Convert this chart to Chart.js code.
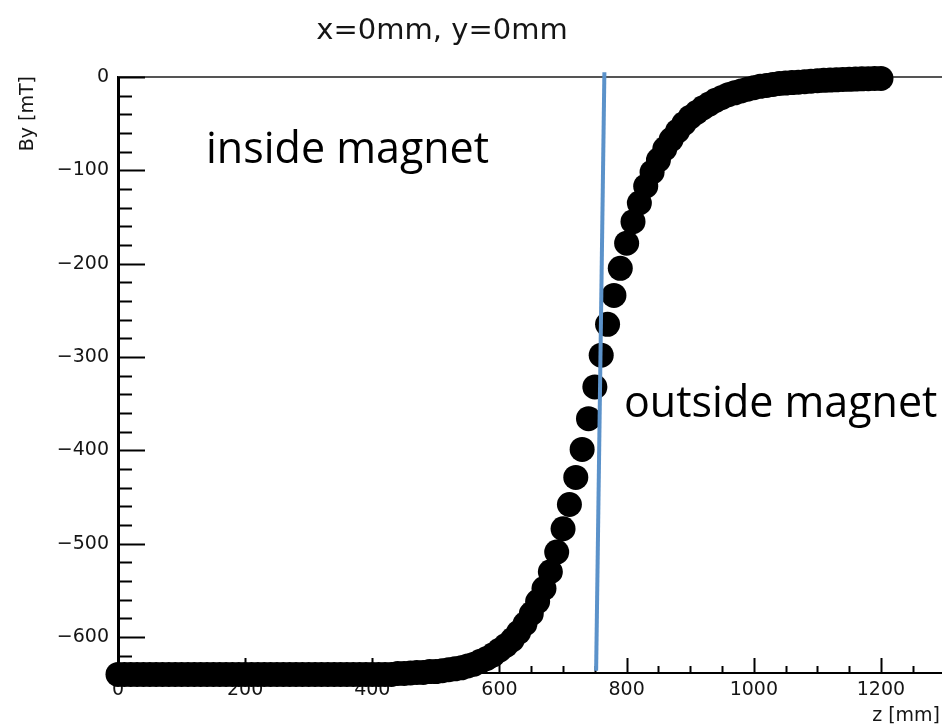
<!DOCTYPE html>
<html>
<head>
<meta charset="utf-8">
<script src="https://cdn.jsdelivr.net/npm/chart.js@4.4.0/dist/chart.umd.min.js"></script>
<style>
  html, body { margin: 0; padding: 0; background: #fff; }
  #wrap { width: 942px; height: 728px; position: relative; }
</style>
</head>
<body>
<div id="wrap"><canvas id="fieldChart"></canvas></div>
<script>
// z positions [mm] and By values [mT]
const zValues = [
    0, 10, 20, 30, 40, 50, 60, 70, 80, 90,
    100, 110, 120, 130, 140, 150, 160, 170, 180, 190,
    200, 210, 220, 230, 240, 250, 260, 270, 280, 290,
    300, 310, 320, 330, 340, 350, 360, 370, 380, 390,
    400, 410, 420, 430, 440, 450, 460, 470, 480, 490,
    500, 510, 520, 530, 540, 550, 560, 570, 580, 590,
    600, 610, 620, 630, 640, 650, 660, 670, 680, 690,
    700, 710, 720, 730, 740, 750, 760, 770, 780, 790,
    800, 810, 820, 830, 840, 850, 860, 870, 880, 890,
    900, 910, 920, 930, 940, 950, 960, 970, 980, 990,
    1000, 1010, 1020, 1030, 1040, 1050, 1060, 1070, 1080, 1090,
    1100, 1110, 1120, 1130, 1140, 1150, 1160, 1170, 1180, 1190,
    1200
];
const byValues = [
    -640, -640, -640, -640, -640, -640, -640, -640, -640, -640,
    -640, -640, -640, -640, -640, -640, -640, -640, -640, -640,
    -640, -640, -640, -640, -640, -640, -640, -640, -640, -640,
    -640, -640, -640, -640, -640, -640, -640, -640, -640, -640,
    -640, -640, -640, -640, -639, -639, -638.5, -638, -638, -637,
    -637, -636, -635, -634, -633, -631, -629, -626, -623, -619,
    -614, -609, -603, -595, -586, -575, -562, -548, -530, -509,
    -484, -458, -429, -399, -366, -332, -298, -265, -234, -205,
    -178, -155, -135, -117, -102, -89, -77, -67, -58, -50,
    -43, -38, -33, -29, -25, -22, -19, -17, -15, -13,
    -11.5, -10, -9, -8, -7, -6.5, -6, -5.5, -5, -4.5,
    -4, -3.6, -3.3, -3, -2.7, -2.5, -2.2, -2, -1.8, -1.6,
    -1.5
];

// hand drawn boundary line (start / end in data units)
const boundaryZ = [752, 765];
const boundaryBy = [-636, 5];

const xTickLabels = [0, 200, 400, 600, 800, 1000, 1200];
const yTickLabels = [0, -100, -200, -300, -400, -500, -600];

const tickFont = { family: 'DejaVu Sans', size: 19 };
const textColor = '#151515';

const points = zValues.map((z, i) => ({ x: z, y: byValues[i] }));
const boundary = boundaryZ.map((z, i) => ({ x: z, y: boundaryBy[i] }));

// ROOT style frame: inward ticks, top line, titles and labels
const frameAndText = {
    id: 'frameAndText',
    beforeDatasetsDraw(chart) {
        const { ctx, chartArea } = chart;
        const xs = chart.scales.x;
        const ys = chart.scales.y;
        ctx.save();
        // top frame line
        ctx.strokeStyle = '#555';
        ctx.lineWidth = 2;
        ctx.beginPath();
        ctx.moveTo(chartArea.left, chartArea.top);
        ctx.lineTo(chartArea.right, chartArea.top);
        ctx.stroke();

        ctx.strokeStyle = '#000';
        ctx.lineWidth = 2;
        // y ticks (minor every 20)
        for (let v = 0; v >= -620; v -= 20) {
            const py = Math.round(ys.getPixelForValue(v)) + 0.5;
            const len = (v % 100 === 0) ? 27 : 14;
            ctx.beginPath();
            ctx.moveTo(chartArea.left, py);
            ctx.lineTo(chartArea.left + len, py);
            ctx.stroke();
        }
        // x ticks (minor every 50)
        for (let v = 50; v <= 1300; v += 50) {
            const px = Math.round(xs.getPixelForValue(v)) + 0.5;
            const len = (v % 200 === 0) ? 15 : 7;
            ctx.beginPath();
            ctx.moveTo(px, chartArea.bottom);
            ctx.lineTo(px, chartArea.bottom - len);
            ctx.stroke();
        }
        ctx.restore();
    },
    afterDraw(chart) {
        const { ctx } = chart;
        ctx.save();
        ctx.fillStyle = textColor;
        ctx.textBaseline = 'alphabetic';

        ctx.font = '29px "DejaVu Sans"';
        ctx.textAlign = 'center';
        ctx.fillText('x=0mm, y=0mm', 442, 39);

        ctx.font = '19px "DejaVu Sans"';
        ctx.textAlign = 'right';
        ctx.fillText('z [mm]', 940, 721);

        ctx.save();
        ctx.translate(33, 76);
        ctx.rotate(-Math.PI / 2);
        ctx.textAlign = 'right';
        ctx.fillText('By [mT]', 0, 0);
        ctx.restore();

        ctx.fillStyle = '#000';
        ctx.font = '43px "Open Sans"';
        ctx.textAlign = 'left';
        ctx.fillText('inside magnet', 206, 163);
        ctx.fillText('outside magnet', 624, 417);
        ctx.restore();
    }
};

const ctx = document.getElementById('fieldChart').getContext('2d');
const fieldChart = new Chart(ctx, {
    type: 'scatter',
    data: {
        datasets: [{
            label: 'By',
            data: points,
            pointRadius: 12.5,
            pointBackgroundColor: '#000',
            pointBorderWidth: 0,
            clip: false,
            order: 1
        }, {
            type: 'line',
            label: 'boundary',
            data: boundary,
            borderColor: '#5b92ca',
            borderWidth: 4,
            pointRadius: 0,
            fill: false,
            clip: false,
            order: 0
        }]
    },
    options: {
        responsive: true,
        maintainAspectRatio: false,
        animation: false,
        events: [],
        layout: {
            autoPadding: false,
            padding: { top: 77, right: 0, bottom: 0, left: 0 }
        },
        plugins: {
            legend: { display: false },
            tooltip: { enabled: false }
        },
        scales: {
            x: {
                type: 'linear',
                min: 0,
                max: 1296,
                afterFit: s => {
                    s.height = 55;
                    s.paddingLeft = 0;
                    s.paddingRight = 0;
                },
                afterBuildTicks: s => { s.ticks = xTickLabels.map(v => ({ value: v })); },
                grid: { display: false, drawTicks: false },
                border: { display: true, color: '#000', width: 2 },
                ticks: {
                    font: tickFont,
                    color: textColor,
                    padding: 6,
                    maxRotation: 0,
                    autoSkip: false,
                    callback: v => String(v)
                }
            },
            y: {
                type: 'linear',
                min: -638.5,
                max: 0,
                afterFit: s => {
                    s.width = 118;
                    s.paddingTop = 0;
                    s.paddingBottom = 0;
                },
                afterBuildTicks: s => { s.ticks = yTickLabels.map(v => ({ value: v })); },
                grid: { display: false, drawTicks: false },
                border: { display: true, color: '#000', width: 3 },
                ticks: {
                    font: tickFont,
                    color: textColor,
                    padding: 9,
                    autoSkip: false,
                    callback: v => v === 0 ? '0' : '\u2212' + Math.abs(v)
                }
            }
        }
    },
    plugins: [frameAndText]
});
</script>
</body>
</html>
